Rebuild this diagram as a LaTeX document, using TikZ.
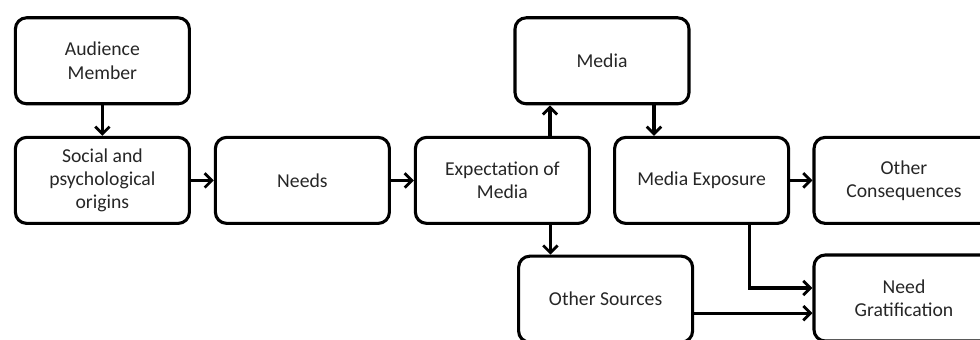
\documentclass[tikz,border=0pt]{standalone}
\usepackage{fontspec}
\setmainfont{Carlito}
\usetikzlibrary{arrows.meta}

\tikzset{
  ugbox/.style={draw, line width=2.2pt, rounded corners=0.28cm,
    minimum width=4.35cm, minimum height=2.15cm, align=center,
    font=\fontsize{14}{16.5}\selectfont, text=black!85},
  ugarrow/.style={line width=2.2pt,
    -{Straight Barb[length=1.8mm,width=3.6mm,line width=2pt]}}
}

\begin{document}
\begin{tikzpicture}
    \useasboundingbox (0,0) rectangle (24.5,-8.5);
    \clip (0,0) rectangle (24.5,-8.5);
    % boxes
    \node[ugbox] (audience) at (2.56,-1.52) {Audience\\Member};
    \node[ugbox] (origins) at (2.56,-4.51) {Social and\\psychological\\origins};
    \node[ugbox] (needs) at (7.56,-4.51) {Needs};
    \node[ugbox] (expect) at (12.56,-4.51) {Expectation of\\Media};
    \node[ugbox] (media) at (15.05,-1.52) {Media};
    \node[ugbox] (exposure) at (17.54,-4.51) {Media Exposure};
    \node[ugbox, minimum width=4.5cm] (othercons) at (22.6,-4.51) {Other\\Consequences};
    \node[ugbox] (othersrc) at (15.14,-7.48) {Other Sources};
    \node[ugbox, minimum width=4.5cm] (gratif) at (22.6,-7.45) {Need\\Gratification};
    % connectors
    \draw[ugarrow] (audience) -- (origins);
    \draw[ugarrow] (origins) -- (needs);
    \draw[ugarrow] (needs) -- (expect);
    \draw[ugarrow] ([xshift=1.19cm]expect.north) -- ([xshift=1.19cm]expect.north |- media.south);
    \draw[ugarrow] ([xshift=1.3cm]media.south) -- ([xshift=1.3cm]media.south |- exposure.north);
    \draw[ugarrow] ([xshift=1.2cm]expect.south) -- ([xshift=1.2cm]expect.south |- othersrc.north);
    \draw[ugarrow] (exposure) -- (othercons);
    \draw[ugarrow] ([xshift=1.2cm]exposure.south) |- ([yshift=0.25cm]gratif.west);
    \draw[ugarrow] ([yshift=-0.35cm]othersrc.east) -- ([yshift=-0.35cm]othersrc.east -| gratif.west);
\end{tikzpicture}
\end{document}
